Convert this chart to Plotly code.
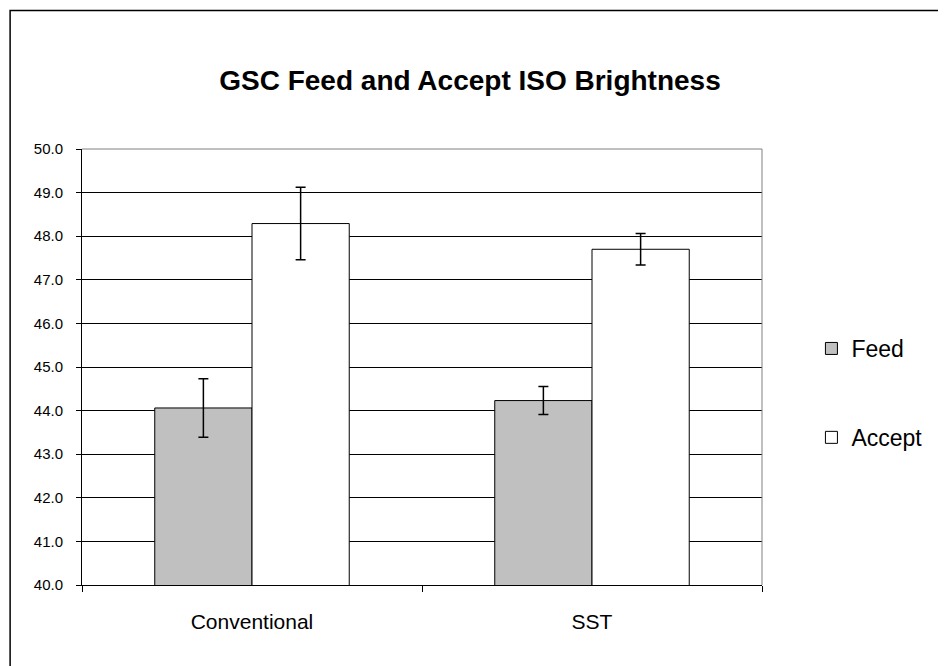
import plotly.graph_objects as go

categories = ["Conventional", "SST"]
feed_values = [44.06, 44.23]
feed_errors = [0.67, 0.32]
accept_values = [48.29, 47.70]
accept_errors = [0.83, 0.36]
y_ticks = [40.0, 41.0, 42.0, 43.0, 44.0, 45.0, 46.0, 47.0, 48.0, 49.0, 50.0]

W, H = 946, 666
OFF = 8  # page body margin offset
L, R, T, B = 81.5 - OFF, 762.5 - OFF, 149 - OFF, 585 - OFF

fig = go.Figure()
fig.add_trace(go.Bar(
    name="Feed", x=categories, y=feed_values, legendgroup="f",
    marker=dict(color="#C0C0C0", line=dict(color="black", width=1)),
    error_y=dict(type="data", array=feed_errors, color="black", thickness=1.5, width=5),
))
fig.add_trace(go.Bar(
    name="Accept", x=categories, y=accept_values, legendgroup="a",
    marker=dict(color="white", line=dict(color="black", width=1)),
    error_y=dict(type="data", array=accept_errors, color="black", thickness=1.5, width=5),
))

pw, ph = R - L, B - T
def px_x(p):
    return (p - OFF - L) / pw
def px_y(p):
    return (B - (p - OFF)) / ph

shapes = [
    # outer chart border (top & left visible)
    dict(type="rect", xref="paper", yref="paper", x0=px_x(9.5), y0=px_y(720), x1=px_x(1020), y1=px_y(10.5),
         line=dict(color="black", width=1.5), layer="below"),
    # plot-area border top & right (gray)
    dict(type="line", xref="paper", yref="paper", x0=0, x1=1, y0=1, y1=1, line=dict(color="#808080", width=1)),
    dict(type="line", xref="paper", yref="paper", x0=1, x1=1, y0=0, y1=1, line=dict(color="#808080", width=1)),
]

fig.update_layout(
    width=W, height=H,
    margin=dict(l=L, r=W - R, t=T, b=H - B, pad=0, autoexpand=False),
    paper_bgcolor="white", plot_bgcolor="white",
    font=dict(family="Arial, Liberation Sans, sans-serif", color="black"),
    title=dict(text="<b>GSC Feed and Accept ISO Brightness</b>", x=(470 - OFF) / W, xanchor="center",
               xref="container", y=1 - (80 - OFF) / H, yref="container", yanchor="middle",
               font=dict(size=28, color="black")),
    barmode="group", bargap=0.428, bargroupgap=0,
    showlegend=True,
    legend=dict(x=px_x(812), y=px_y(327), xanchor="left", yanchor="top",
                font=dict(size=23, color="black"), tracegroupgap=56, itemwidth=30,
                bgcolor="rgba(0,0,0,0)", traceorder="grouped"),
    shapes=shapes,
)
fig.update_yaxes(range=[40, 50], tickvals=y_ticks, ticktext=[f"{v:.1f}" for v in y_ticks],
                 showgrid=True, gridcolor="black", gridwidth=1,
                 showline=True, linecolor="black", linewidth=1,
                 ticks="outside", ticklen=5, tickcolor="black",
                 tickfont=dict(size=15, color="black"), ticklabelstandoff=10, zeroline=False)
fig.update_xaxes(showline=True, linecolor="black", linewidth=1,
                 ticks="outside", ticklen=6, tickcolor="black", tickson="boundaries",
                 tickfont=dict(size=21, color="black"), ticklabelstandoff=18, showgrid=False)

fig.write_html("out.html")
